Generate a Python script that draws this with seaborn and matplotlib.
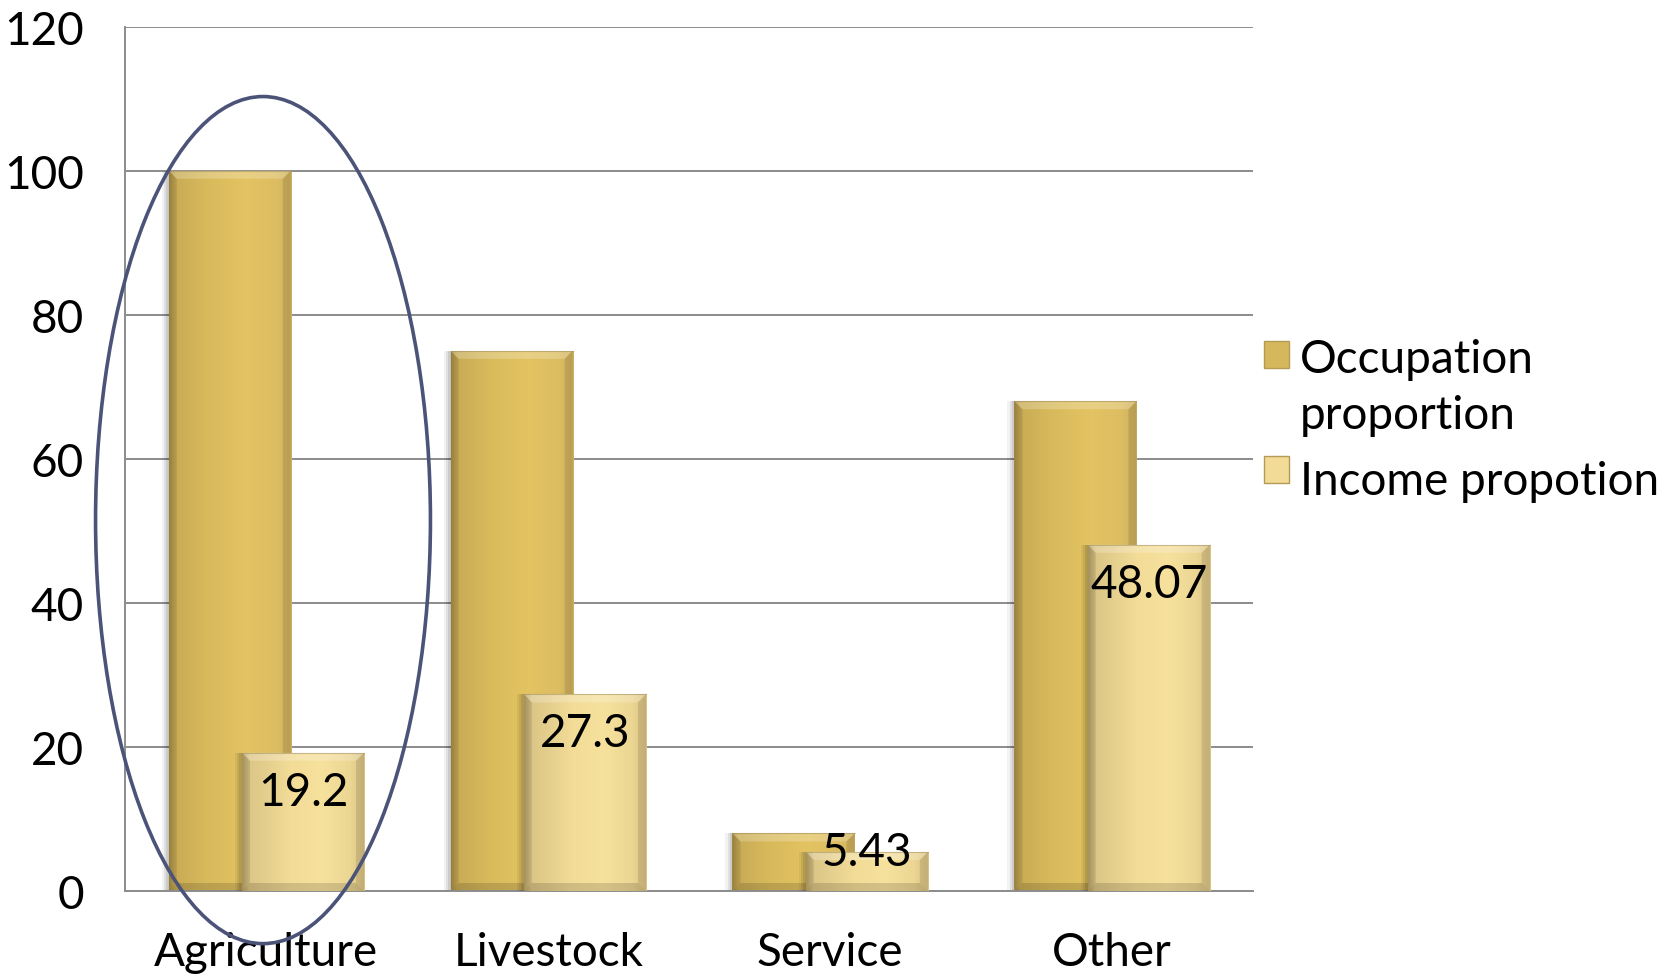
import numpy as np
import pandas as pd
import matplotlib
matplotlib.use("Agg")
import matplotlib.pyplot as plt
import seaborn as sns
from matplotlib.patches import Rectangle, Polygon, Ellipse
from matplotlib.colors import LinearSegmentedColormap

# ---- data ----
categories = ["Agriculture", "Livestock", "Service", "Other"]
occupation = [100, 75, 8, 68]
income = [19.2, 27.3, 5.43, 48.07]
income_labels = ["19.2", "27.3", "5.43", "48.07"]
series_names = ["Occupation\nproportion", "Income propotion"]
y_ticks = [0, 20, 40, 60, 80, 100, 120]

# ---- style ----
sns.set_theme(style="white")
plt.rcParams["font.family"] = ["Lato", "DejaVu Sans"]
FS = 33
GRID = "#8c8c8c"

occ_stops = [(0.0, "#a98f45"), (0.05, "#c8ab55"), (0.3, "#d8ba5c"),
             (0.62, "#e3c361"), (0.88, "#dcbd62"), (1.0, "#cdb05d")]
inc_stops = [(0.0, "#b8a367"), (0.06, "#dcc687"), (0.4, "#f2dc97"),
             (0.65, "#f6e19d"), (0.88, "#ecd693"), (1.0, "#d8c182")]
occ_cmap = LinearSegmentedColormap.from_list("occ", occ_stops)
inc_cmap = LinearSegmentedColormap.from_list("inc", inc_stops)

df = pd.DataFrame({
    "category": categories * 2,
    "value": occupation + income,
    "series": [series_names[0]] * len(categories) + [series_names[1]] * len(categories),
})

fig = plt.figure(figsize=(16.68, 9.78), dpi=100)
ax = fig.add_axes([0.0752, 0.0879, 0.6760, 0.8838])

sns.barplot(data=df, x="category", y="value", hue="series", order=categories,
            hue_order=series_names, width=0.866, dodge=True,
            palette=["#dcbd5e", "#f3dd98"], saturation=1, errorbar=None,
            linewidth=0, legend=False, ax=ax)

ax.set_xlim(-0.5, len(categories) - 0.5)
ax.set_ylim(0, 120)
ax.set_yticks(y_ticks)
ax.set_xlabel("")
ax.set_ylabel("")

# pixel scale for bevel / shadow sizes
fig.canvas.draw()
bbox = ax.get_window_extent()
px_x = bbox.width / (len(categories))
px_y = bbox.height / 120.0

n = len(categories)
bars = list(ax.patches)
overlap_shift = 0.0865
grad = np.linspace(0, 1, 256).reshape(1, -1)

for i, p in enumerate(bars):
    is_income = i >= n
    # pull the two bars of each group together so they overlap
    p.set_x(p.get_x() + (-overlap_shift if is_income else overlap_shift))
    x0, y0 = p.get_x(), p.get_y()
    w, h = p.get_width(), p.get_height()
    x1, y1 = x0 + w, y0 + h
    z = 4 if is_income else 2
    p.set_zorder(z)

    # soft shadow on the left side
    for k, a in zip((7, 4.5, 2.5), (0.05, 0.07, 0.09)):
        ax.add_patch(Rectangle((x0 - k / px_x, y0), k / px_x + 0.001, h,
                               facecolor="black", alpha=a, lw=0, zorder=z - 0.5))

    im = ax.imshow(grad, extent=[x0, x1, y0, y1], aspect="auto",
                   cmap=inc_cmap if is_income else occ_cmap,
                   interpolation="bilinear", zorder=z + 0.1)
    im.set_clip_path(p)

    # bevelled edges
    dx, dy = 8 / px_x, 8 / px_y
    dy = min(dy, h / 2.2)
    top = [(x0, y1), (x1, y1), (x1 - dx, y1 - dy), (x0 + dx, y1 - dy)]
    left = [(x0, y0), (x0, y1), (x0 + dx, y1 - dy), (x0 + dx, y0 + dy)]
    right = [(x1, y0), (x1, y1), (x1 - dx, y1 - dy), (x1 - dx, y0 + dy)]
    bottom = [(x0, y0), (x1, y0), (x1 - dx, y0 + dy), (x0 + dx, y0 + dy)]
    for poly, col, a in ((top, "white", 0.22), (left, "black", 0.10),
                         (right, "black", 0.10), (bottom, "black", 0.14)):
        ax.add_patch(Polygon(poly, closed=True, facecolor=col, alpha=a,
                             lw=0, zorder=z + 0.2))
    ax.plot([x0, x1], [y1, y1], color="#9a8a5a", lw=0.8, alpha=0.5, zorder=z + 0.3)

    if is_income:
        j = i - n
        v = income[j]
        off = 39 / px_y
        ly = v - off if v > 2 * off else v
        ax.text(x0 + w / 2, ly, income_labels[j], ha="center", va="center",
                fontsize=FS, color="black", zorder=8)

# grid and axes
ax.yaxis.grid(True, color=GRID, linewidth=1.4)
ax.xaxis.grid(False)
ax.set_axisbelow(True)
for s in ("top", "right"):
    ax.spines[s].set_visible(False)
for s in ("left", "bottom"):
    ax.spines[s].set_color(GRID)
    ax.spines[s].set_linewidth(1.4)
ax.tick_params(axis="y", length=0, pad=30, labelsize=FS, labelcolor="black")
ax.tick_params(axis="x", length=0, pad=29, labelsize=FS, labelcolor="black")

# highlight around the first category
ax.add_patch(Ellipse((-0.012, 51.5), width=1.188, height=117.6, fill=False,
                     edgecolor="#4b5378", lw=2.6, zorder=10, clip_on=False))

# legend
leg_items = [(series_names[0], "#d6b85c", 0.6227, 0.6036),
             (series_names[1], "#f1db97", 0.5051, 0.5070)]
for label, col, sq_y, ty in leg_items:
    fig.patches.append(Rectangle((0.7578, sq_y), 0.0150, 0.0276,
                                 transform=fig.transFigure, facecolor=col,
                                 edgecolor="#b39a55", lw=1.0))
    fig.text(0.7794, ty, label, ha="left", va="center", fontsize=FS,
             color="black", linespacing=1.42)

fig.savefig("out.png", dpi=100)
